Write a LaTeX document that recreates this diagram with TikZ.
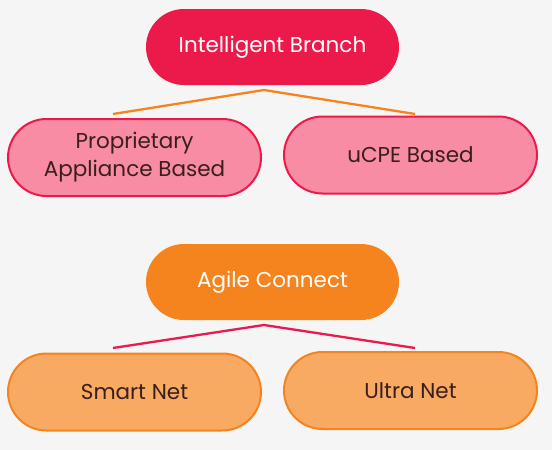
\documentclass[tikz,border=0pt]{standalone}
\usepackage{fontspec}
\setmainfont{Poppins}
\usetikzlibrary{shapes.misc}
\definecolor{bg}{HTML}{F5F5F5}
\definecolor{redm}{HTML}{EC1A4A}
\definecolor{pinkl}{HTML}{F78CA4}
\definecolor{orgm}{HTML}{F5841F}
\definecolor{orgl}{HTML}{F8A962}
\definecolor{txtd}{HTML}{3A1E1E}
\begin{document}
\begin{tikzpicture}[x=1pt,y=-1pt,
  pill/.style={rounded rectangle, inner sep=0pt, font=\fontsize{21.5}{28}\selectfont, align=center},
  rootred/.style={pill, fill=redm, text=white, minimum width=253pt, minimum height=76pt},
  childred/.style={pill, fill=pinkl, draw=redm, line width=2pt, text=txtd, minimum width=253pt, minimum height=77pt},
  rootorg/.style={pill, fill=orgm, text=white, minimum width=253pt, minimum height=76pt},
  childorg/.style={pill, fill=orgl, draw=orgm, line width=2pt, text=txtd, minimum width=253pt, minimum height=77pt},
  link/.style={line width=2.3pt}
]
\fill[bg] (0,0) rectangle (552,450);
\useasboundingbox (0,0) rectangle (552,450);
% top group
\node[rootred] (ib) at (272.5,47) {Intelligent Branch};
\node[childred] (pa) at (134.5,157.5) {Proprietary\\Appliance Based};
\node[childred] (uc) at (410.5,155) {uCPE Based};
\coordinate (ta) at (264,90);
\coordinate (tl) at (113,114);
\coordinate (tr) at (415,114);
\draw[link, draw=orgm] (tl) -- (ta) -- (tr);
% bottom group
\node[rootorg] (ac) at (272.5,282) {Agile Connect};
\node[childorg] (sn) at (134.5,392) {Smart Net};
\node[childorg] (un) at (410.5,390.5) {Ultra Net};
\coordinate (ba) at (264,325);
\coordinate (bl) at (113,348);
\coordinate (br) at (415,348);
\draw[link, draw=redm] (bl) -- (ba) -- (br);
\end{tikzpicture}
\end{document}
